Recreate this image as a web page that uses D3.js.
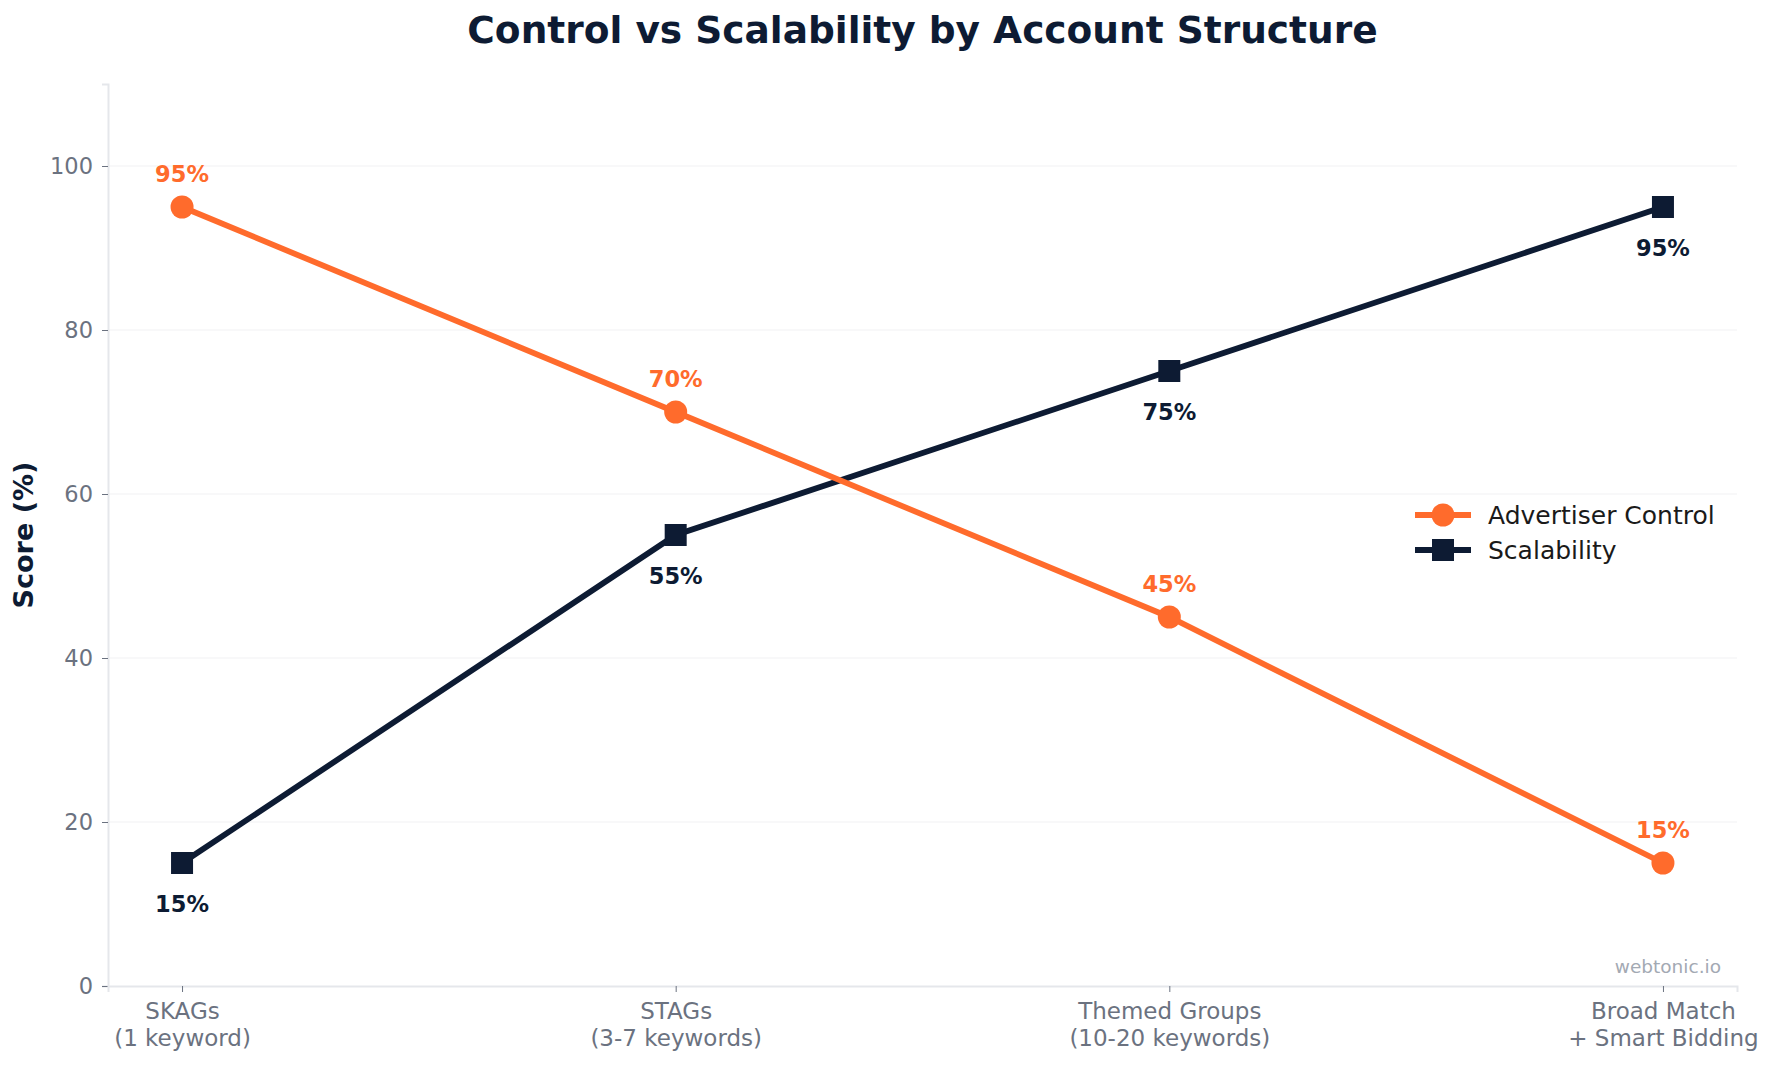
<!DOCTYPE html>
<html>
<head>
<meta charset="utf-8">
<script src="https://cdn.jsdelivr.net/npm/d3@7"></script>
<style>
    body { margin: 0; background: #fff; }
    svg { display: block; font-family: "DejaVu Sans", sans-serif; }
</style>
</head>
<body>
<div id="chart"></div>
<script>
// Chart data
const categories = [
    ["SKAGs", "(1 keyword)"],
    ["STAGs", "(3-7 keywords)"],
    ["Themed Groups", "(10-20 keywords)"],
    ["Broad Match", "+ Smart Bidding"]
];
const controlValues = [95, 70, 45, 15];
const scalabilityValues = [15, 55, 75, 95];
const yTickValues = [0, 20, 40, 60, 80, 100];
const seriesNames = ["Advertiser Control", "Scalability"];

const ORANGE = "#ff6b2c";
const NAVY = "#0d1b33";
const GRAY = "#6b7280";

const width = 1773;
const height = 1065;
const margin = { top: 84, right: 36, bottom: 79, left: 108 };

const svg = d3.select("#chart").append("svg")
    .attr("width", width)
    .attr("height", height);

const x = d3.scaleLinear()
    .domain([-0.15, categories.length - 1 + 0.15])
    .range([margin.left, width - margin.right]);

const y = d3.scaleLinear()
    .domain([0, 110])
    .range([height - margin.bottom, margin.top]);

// Grid lines
svg.append("g")
    .selectAll("line")
    .data(yTickValues.filter(d => d > 0))
    .enter()
    .append("line")
    .attr("x1", margin.left)
    .attr("x2", width - margin.right)
    .attr("y1", d => y(d))
    .attr("y2", d => y(d))
    .attr("stroke", "#f1f2f4")
    .attr("stroke-width", 1.2);

// Y axis
const yAxis = svg.append("g")
    .attr("transform", `translate(${margin.left},0)`)
    .call(d3.axisLeft(y).tickValues(yTickValues).tickSize(6).tickPadding(9));
yAxis.select(".domain").attr("stroke", "#e5e7eb").attr("stroke-width", 2);
yAxis.selectAll(".tick line").attr("stroke", GRAY);
yAxis.selectAll(".tick text")
    .attr("fill", GRAY)
    .attr("font-size", "22.5px")
    .attr("font-family", "DejaVu Sans");

// X axis
const xAxis = svg.append("g")
    .attr("transform", `translate(0,${height - margin.bottom})`)
    .call(d3.axisBottom(x).tickValues(d3.range(categories.length)).tickSize(6).tickFormat(""));
xAxis.select(".domain").attr("stroke", "#e5e7eb").attr("stroke-width", 2);
xAxis.selectAll(".tick line").attr("stroke", GRAY);
xAxis.selectAll(".tick").each(function(d) {
    const t = d3.select(this).append("text")
        .attr("fill", GRAY)
        .attr("font-size", "23px")
        .attr("font-family", "DejaVu Sans")
        .attr("text-anchor", "middle");
    categories[d].forEach((line, i) => {
        t.append("tspan")
            .attr("x", 0)
            .attr("y", 33 + i * 27)
            .text(line);
    });
});

// Axis label
svg.append("text")
    .attr("transform", `translate(33,${(margin.top + height - margin.bottom) / 2}) rotate(-90)`)
    .attr("text-anchor", "middle")
    .attr("font-size", "27px")
    .attr("font-weight", "bold")
    .attr("fill", NAVY)
    .text("Score (%)");

// Title
svg.append("text")
    .attr("x", (margin.left + width - margin.right) / 2)
    .attr("y", 43)
    .attr("text-anchor", "middle")
    .attr("font-size", "37.5px")
    .attr("font-weight", "bold")
    .attr("fill", NAVY)
    .text("Control vs Scalability by Account Structure");

const line = d3.line()
    .x((d, i) => x(i))
    .y(d => y(d));

// Scalability series
svg.append("path")
    .datum(scalabilityValues)
    .attr("d", line)
    .attr("fill", "none")
    .attr("stroke", NAVY)
    .attr("stroke-width", 5.8);

svg.append("g")
    .selectAll("rect")
    .data(scalabilityValues)
    .enter()
    .append("rect")
    .attr("x", (d, i) => x(i) - 11)
    .attr("y", d => y(d) - 11)
    .attr("width", 22)
    .attr("height", 22)
    .attr("fill", NAVY);

// Control series
svg.append("path")
    .datum(controlValues)
    .attr("d", line)
    .attr("fill", "none")
    .attr("stroke", ORANGE)
    .attr("stroke-width", 5.8);

svg.append("g")
    .selectAll("circle")
    .data(controlValues)
    .enter()
    .append("circle")
    .attr("cx", (d, i) => x(i))
    .attr("cy", d => y(d))
    .attr("r", 11.5)
    .attr("fill", ORANGE);

// Value labels
svg.append("g")
    .selectAll("text")
    .data(controlValues)
    .enter()
    .append("text")
    .attr("x", (d, i) => x(i))
    .attr("y", d => y(d) - 25)
    .attr("text-anchor", "middle")
    .attr("font-size", "22.5px")
    .attr("font-weight", "bold")
    .attr("fill", ORANGE)
    .text(d => d + "%");

svg.append("g")
    .selectAll("text")
    .data(scalabilityValues)
    .enter()
    .append("text")
    .attr("x", (d, i) => x(i))
    .attr("y", d => y(d) + 49)
    .attr("text-anchor", "middle")
    .attr("font-size", "22.5px")
    .attr("font-weight", "bold")
    .attr("fill", NAVY)
    .text(d => d + "%");

// Legend
const legend = svg.append("g")
    .attr("transform", "translate(1415,515)");

[ORANGE, NAVY].forEach((color, i) => {
    const row = legend.append("g").attr("transform", `translate(0,${i * 35})`);
    row.append("line")
        .attr("x1", 0).attr("x2", 56)
        .attr("stroke", color)
        .attr("stroke-width", 5.8);
    if (i === 0) {
        row.append("circle").attr("cx", 28).attr("r", 11.5).attr("fill", color);
    } else {
        row.append("rect").attr("x", 17).attr("y", -11).attr("width", 22).attr("height", 22).attr("fill", color);
    }
    row.append("text")
        .attr("x", 73)
        .attr("y", 9)
        .attr("font-size", "25px")
        .attr("fill", "#1a1a1a")
        .text(seriesNames[i]);
});

// Watermark
svg.append("text")
    .attr("x", 1721)
    .attr("y", 973)
    .attr("text-anchor", "end")
    .attr("font-size", "18.5px")
    .attr("fill", "#a3a9b3")
    .text("webtonic.io");
</script>
</body>
</html>
